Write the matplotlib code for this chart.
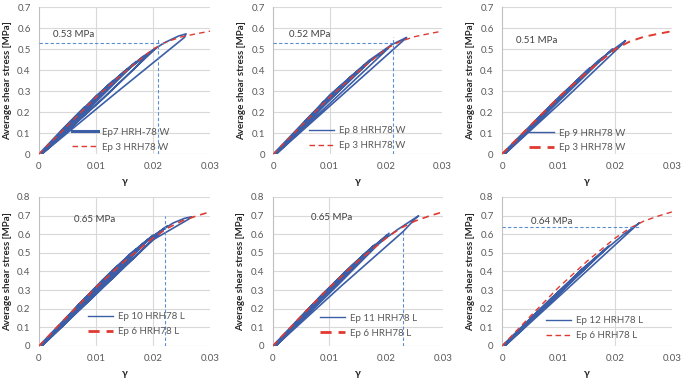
import matplotlib
matplotlib.use("Agg")
import matplotlib.pyplot as plt
from matplotlib.lines import Line2D

plt.rcParams['font.family'] = ['Lato', 'DejaVu Sans']

BLUE = "#3b5ea6"
RED = "#e03a30"
REF = "#5b8fd0"
GRID = "#d9d9d9"
TICK = "#595959"

# reference monotonic curves
red_w_g = [0, 0.005, 0.01, 0.015, 0.02, 0.0225, 0.025, 0.0275, 0.03]
red_w_t = [0, 0.135, 0.27, 0.39, 0.5, 0.535, 0.558, 0.572, 0.585]
red_l_g = [0, 0.005, 0.01, 0.015, 0.02, 0.0225, 0.025, 0.0275, 0.03]
red_l_t = [0, 0.16, 0.315, 0.455, 0.58, 0.632, 0.67, 0.697, 0.72]

# cyclic tests
ep7_g = [0, 0.004, 0.008, 0.0045, 0.0005, 0.004, 0.0078, 0.004, 0.0005,
         0.005, 0.010, 0.013, 0.0075, 0.0005, 0.005, 0.010, 0.0127, 0.007, 0.0005,
         0.006, 0.012, 0.017, 0.0095, 0.0005, 0.006, 0.012, 0.0167, 0.009, 0.0005,
         0.008, 0.015, 0.0205, 0.0115, 0.0005, 0.008, 0.015, 0.0202, 0.011, 0.0005,
         0.010, 0.018, 0.022, 0.0245, 0.0258, 0.0255, 0.013, 0.0005]
ep7_t = [0, 0.115, 0.225, 0.115, 0, 0.11, 0.215, 0.105, 0,
         0.14, 0.275, 0.35, 0.19, 0, 0.135, 0.27, 0.34, 0.18, 0,
         0.165, 0.325, 0.44, 0.235, 0, 0.16, 0.32, 0.43, 0.225, 0,
         0.22, 0.395, 0.505, 0.27, 0, 0.215, 0.39, 0.497, 0.26, 0,
         0.275, 0.46, 0.53, 0.562, 0.572, 0.555, 0.28, 0.0]

ep8_g = [0, 0.005, 0.009, 0.005, 0.0005, 0.006, 0.011, 0.0145, 0.008, 0.0005, 0.006, 0.011, 0.0142, 0.0078, 0.0005,
         0.007, 0.013, 0.0175, 0.0095, 0.0005, 0.007, 0.013, 0.0172, 0.0092, 0.0005,
         0.009, 0.016, 0.0205, 0.011, 0.0005, 0.010, 0.017, 0.021, 0.0237, 0.0233, 0.012, 0.0005]
ep8_t = [0, 0.14, 0.25, 0.135, 0, 0.165, 0.30, 0.385, 0.21, 0, 0.162, 0.295, 0.378, 0.2, 0,
         0.195, 0.35, 0.45, 0.245, 0, 0.19, 0.345, 0.443, 0.235, 0,
         0.25, 0.42, 0.505, 0.265, 0, 0.28, 0.445, 0.52, 0.555, 0.545, 0.275, 0]

ep9_g = [0, 0.005, 0.0095, 0.005, 0.0005, 0.006, 0.012, 0.0155, 0.008, 0.0005, 0.006, 0.012, 0.0152, 0.0078, 0.0005,
         0.008, 0.015, 0.0195, 0.010, 0.0005, 0.010, 0.017, 0.0218, 0.0215, 0.011, 0.0005]
ep9_t = [0, 0.135, 0.255, 0.13, 0, 0.16, 0.32, 0.41, 0.205, 0, 0.158, 0.315, 0.402, 0.2, 0,
         0.215, 0.39, 0.50, 0.25, 0, 0.27, 0.445, 0.54, 0.53, 0.26, 0]

ep10_g = [0, 0.005, 0.009, 0.005, 0.0005, 0.006, 0.011, 0.014, 0.008, 0.0005, 0.006, 0.011, 0.0138, 0.0078, 0.0005,
          0.007, 0.013, 0.017, 0.0095, 0.0005, 0.007, 0.013, 0.0168, 0.0092, 0.0005,
          0.009, 0.016, 0.020, 0.011, 0.0005, 0.009, 0.016, 0.0198, 0.0108, 0.0005,
          0.010, 0.018, 0.0225, 0.013, 0.0005, 0.010, 0.018, 0.0222, 0.0125, 0.0005,
          0.011, 0.019, 0.0235, 0.0255, 0.0268, 0.0262, 0.020, 0.011, 0.0005]
ep10_t = [0, 0.16, 0.285, 0.155, 0, 0.19, 0.35, 0.435, 0.24, 0, 0.186, 0.345, 0.428, 0.232, 0,
          0.225, 0.41, 0.52, 0.285, 0, 0.22, 0.405, 0.512, 0.275, 0,
          0.285, 0.495, 0.595, 0.32, 0, 0.28, 0.49, 0.588, 0.31, 0,
          0.315, 0.545, 0.645, 0.365, 0, 0.31, 0.54, 0.637, 0.355, 0,
          0.345, 0.57, 0.66, 0.685, 0.694, 0.68, 0.57, 0.31, 0]

ep11_g = [0, 0.005, 0.009, 0.005, 0.0005, 0.006, 0.011, 0.0145, 0.008, 0.0005, 0.006, 0.011, 0.0142, 0.0078, 0.0005,
          0.008, 0.014, 0.018, 0.010, 0.0005, 0.008, 0.014, 0.0177, 0.0097, 0.0005,
          0.009, 0.016, 0.0205, 0.0115, 0.0005, 0.009, 0.016, 0.0202, 0.0112, 0.0005,
          0.011, 0.018, 0.022, 0.0245, 0.0257, 0.0253, 0.023, 0.012, 0.0005]
ep11_t = [0, 0.16, 0.285, 0.155, 0, 0.19, 0.345, 0.445, 0.24, 0, 0.187, 0.34, 0.437, 0.232, 0,
          0.255, 0.435, 0.545, 0.295, 0, 0.25, 0.43, 0.537, 0.285, 0,
          0.285, 0.49, 0.605, 0.33, 0, 0.28, 0.485, 0.597, 0.32, 0,
          0.34, 0.535, 0.625, 0.675, 0.698, 0.69, 0.615, 0.32, 0]

ep12_g = [0, 0.005, 0.009, 0.005, 0.0005, 0.006, 0.011, 0.0145, 0.008, 0.0005, 0.006, 0.011, 0.0142, 0.0078, 0.0005,
          0.008, 0.014, 0.019, 0.010, 0.0005, 0.008, 0.014, 0.0187, 0.0098, 0.0005,
          0.010, 0.017, 0.0215, 0.0243, 0.0238, 0.012, 0.0005]
ep12_t = [0, 0.148, 0.265, 0.14, 0, 0.175, 0.322, 0.42, 0.225, 0, 0.172, 0.317, 0.412, 0.218, 0,
          0.232, 0.41, 0.54, 0.28, 0, 0.228, 0.405, 0.532, 0.272, 0,
          0.29, 0.485, 0.6, 0.662, 0.65, 0.32, 0]

blue_labels = ["Ep7 HRH-78 W", "Ep 8 HRH78 W", "Ep 9 HRH78 W",
               "Ep 10 HRH78 L", "Ep 11 HRH78 L", "Ep 12 HRH78 L"]
red_labels = ["Ep 3 HRH78 W"] * 3 + ["Ep 6 HRH78 L"] * 3
strength_text = ["0.53 MPa", "0.52 MPa", "0.51 MPa", "0.65 MPa", "0.65 MPa", "0.64 MPa"]

panels = [
    dict(pos=(0.0571, 0.5958, 0.2504, 0.3858), ymax=0.7, blue=(ep7_g, ep7_t), red=(red_w_g, red_w_t),
         txt=(0.0025, 0.57), hline=(0.53, 0.0225), vline=(0.0209, 0.547), vgrid=[0.01, 0.02],
         leg=(0.155, -0.03), lw_leg=(2.2, 1.0), lw_red=1.0),
    dict(pos=(0.4002, 0.5958, 0.2470, 0.3858), ymax=0.7, blue=(ep8_g, ep8_t), red=(red_w_g, red_w_t),
         txt=(0.0027, 0.57), hline=(0.527, 0.0217), vline=(0.0212, 0.557), vgrid=[0.01],
         leg=(0.17, -0.02), lw_leg=(1.0, 1.0), lw_red=1.0),
    dict(pos=(0.7350, 0.5958, 0.2489, 0.3858), ymax=0.7, blue=(ep9_g, ep9_t), red=(red_w_g, red_w_t),
         txt=(0.0024, 0.54), hline=None, vline=None, vgrid=[0.02],
         leg=(0.12, -0.035), lw_leg=(1.0, 2.0), lw_red=1.4),
    dict(pos=(0.0571, 0.0919, 0.2504, 0.3911), ymax=0.8, blue=(ep10_g, ep10_t), red=(red_l_g, red_l_t),
         txt=(0.0061, 0.68), hline=None, vline=(0.0221, 0.698), vgrid=[0.01, 0.02],
         leg=(0.245, 0.02), lw_leg=(1.0, 2.0), lw_red=1.2),
    dict(pos=(0.3993, 0.0919, 0.2493, 0.3911), ymax=0.8, blue=(ep11_g, ep11_t), red=(red_l_g, red_l_t),
         txt=(0.0067, 0.689), hline=None, vline=(0.023, 0.615), vgrid=[0.01],
         leg=(0.235, 0.01), lw_leg=(1.0, 2.0), lw_red=1.2),
    dict(pos=(0.7350, 0.0919, 0.2489, 0.3911), ymax=0.8, blue=(ep12_g, ep12_t), red=(red_l_g, red_l_t),
         txt=(0.0052, 0.667), hline=(0.641, 0.0245), vline=None, vgrid=[0.02],
         leg=(0.22, -0.005), lw_leg=(1.0, 1.0), lw_red=1.0),
]

fig = plt.figure(figsize=(6.83, 3.81), dpi=100)

for i, p in enumerate(panels):
    ax = fig.add_axes(p["pos"])
    ymax = p["ymax"]
    ax.set_xlim(0, 0.03)
    ax.set_ylim(0, ymax)
    yt = [k / 10 for k in range(int(round(ymax * 10)) + 1)]
    ax.set_yticks(yt)
    ax.set_yticklabels(["0"] + [f"{v:.1f}" for v in yt[1:]])
    ax.set_xticks([0, 0.01, 0.02, 0.03])
    ax.set_xticklabels(["0", "0.01", "0.02", "0.03"])
    ax.tick_params(length=0, labelsize=7, labelcolor=TICK, pad=6)
    for s in ["top", "right", "bottom"]:
        ax.spines[s].set_visible(False)
    ax.spines["left"].set_color("#bfbfbf")
    ax.spines["left"].set_linewidth(0.8)
    for v in yt:
        ax.axhline(v, color=GRID, lw=0.8, zorder=0)
    for v in p["vgrid"]:
        ax.axvline(v, color=GRID, lw=0.8, zorder=0)

    if p["hline"] is not None:
        ax.plot([0, p["hline"][1]], [p["hline"][0]] * 2, color=REF, lw=0.8, ls=(0, (3, 2)), zorder=4)
    if p["vline"] is not None:
        ax.plot([p["vline"][0]] * 2, [0, p["vline"][1]], color=REF, lw=0.8, ls=(0, (3, 2)), zorder=4)

    ax.plot(p["blue"][0], p["blue"][1], color=BLUE, lw=1.2, zorder=2)
    ax.plot(p["red"][0], p["red"][1], color=RED, lw=p["lw_red"], ls=(0, (4, 3)), zorder=3)

    ax.text(p["txt"][0], p["txt"][1], strength_text[i], fontsize=7, color="#404040", va="center", ha="left")

    handles = [Line2D([], [], color=BLUE, lw=p["lw_leg"][0]),
               Line2D([], [], color=RED, lw=p["lw_leg"][1], ls=(0, (4, 2.5)))]
    ax.legend(handles, [blue_labels[i], red_labels[i]], loc="lower left", bbox_to_anchor=p["leg"],
              frameon=False, fontsize=7, handlelength=2.6, handletextpad=0.5, labelspacing=0.6,
              borderpad=0.2, labelcolor=TICK)

    ax.set_ylabel("Average shear stress [MPa]", fontsize=7, fontweight="bold", color="#262626", labelpad=4)
    ax.set_xlabel("γ", fontsize=7.5, fontweight="bold", color="#262626", labelpad=4)

fig.savefig("out.png", dpi=100)
